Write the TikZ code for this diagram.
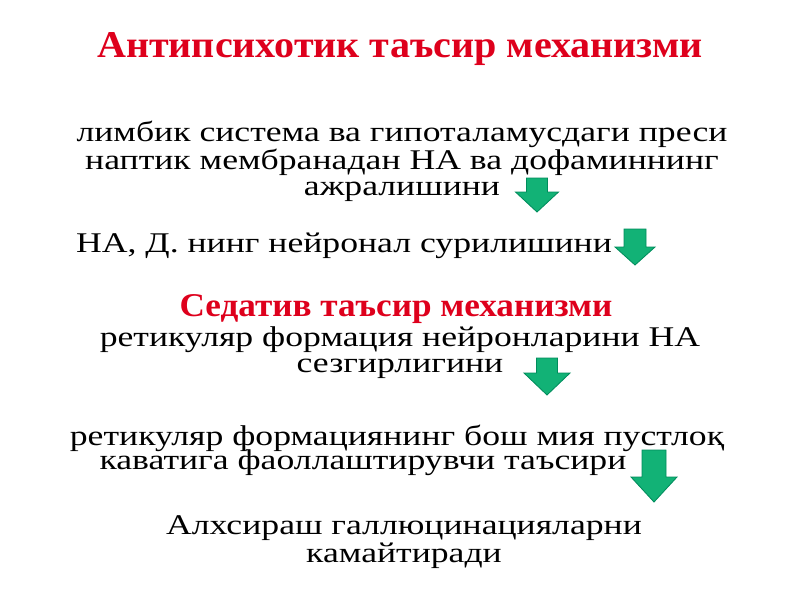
\documentclass[tikz,border=0pt]{standalone}
\usepackage{fontspec}
\setmainfont[FakeStretch=1.25]{Liberation Serif}
\newfontfamily\headfont[FakeStretch=1.06]{Liberation Serif}
\usepackage{xcolor}
\usepackage{tikz}

\definecolor{titlered}{RGB}{222,0,28}
\definecolor{arrowgreen}{RGB}{18,178,118}
\definecolor{arrowedge}{RGB}{0,140,92}

\tikzset{
  txt/.style={anchor=base, align=center, inner sep=0pt,
    font=\fontsize{20.3}{17.8}\selectfont},
  head/.style={anchor=base, inner sep=0pt, text=titlered,
    font=\headfont\bfseries\fontsize{26.9}{28}\selectfont},
  garrow/.style={fill=arrowgreen, draw=arrowedge, line width=0.6pt, line join=miter}
}

\begin{document}
\begin{tikzpicture}[x=0.025cm, y=-0.025cm]
	\useasboundingbox (0,0) rectangle (800,600);

	\node[head] (title) at (400,57) {Антипсихотик таъсир механизми};

	% multi-line nodes sit on the baseline of their last line
	\node[txt] (limbic) at (402,195)
	{
		лимбик система ва гипоталамусдаги преси\\
		наптик мембранадан НА ва дофаминнинг\\
		ажралишини
	};

	\node[txt] (neuronal) at (344,252) {НА, Д. нинг нейронал сурилишини};

	\node[head, font=\headfont\bfseries\fontsize{23.6}{26}\selectfont] (sedative) at (396,316)
		{Седатив таъсир механизми};

	\node[txt] (reticular) at (400,372)
	{
		ретикуляр формация нейронларини НА\\
		сезгирлигини
	};

	\node[txt] (cortex) at (397,445) {ретикуляр формациянинг бош мия пустлоқ};
	\node[txt] (cortexb) at (363,469) {каватига фаоллаштирувчи таъсири};

	\node[txt] (halluc) at (404,562)
	{
		Алхсираш галлюцинацияларни\\
		камайтиради
	};

	% green down arrows: centre x, top, head start, tip, half shaft, half head
	\foreach \cx/\t/\h/\p/\sw/\hw in {537/178/192/212/10.5/21.5, 635/229/247/265/11/20,
		547/358/373/395/10.5/23, 654/450/477/502/12/23}
	{
		\draw[garrow] (\cx-\sw,\t) -- (\cx+\sw,\t) -- (\cx+\sw,\h) -- (\cx+\hw,\h)
			-- (\cx,\p) -- (\cx-\hw,\h) -- (\cx-\sw,\h) -- cycle;
	}
\end{tikzpicture}
\end{document}
